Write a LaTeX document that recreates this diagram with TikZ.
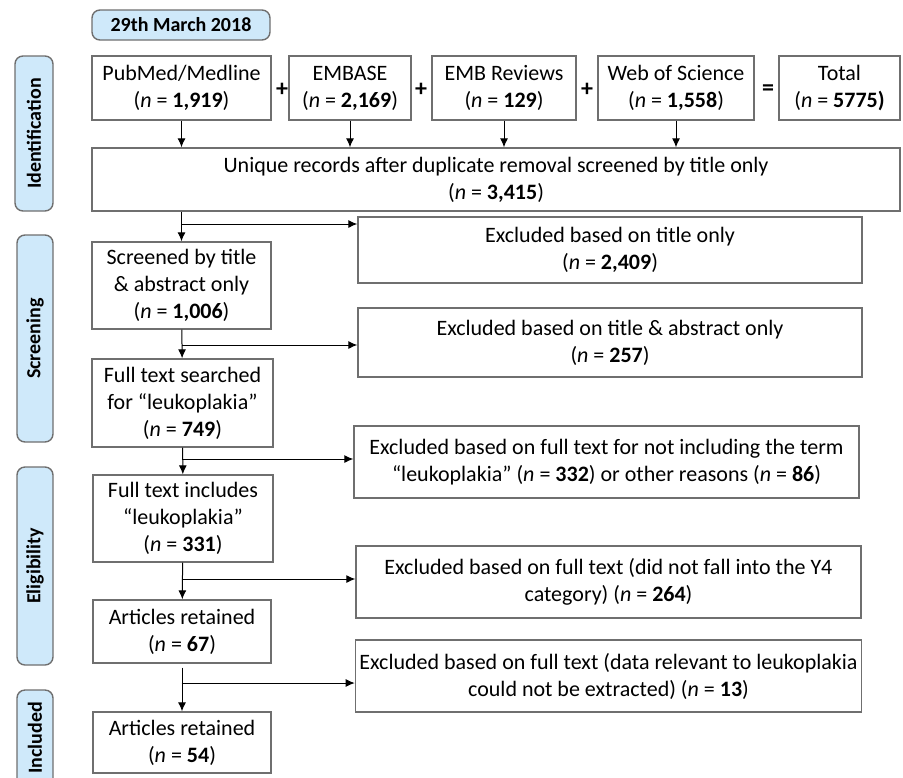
\documentclass[tikz,border=0pt]{standalone}
\usepackage{fontspec}
\setmainfont{Carlito}
\usetikzlibrary{positioning,arrows.meta}
\definecolor{phaseblue}{HTML}{CFE9FA}
\definecolor{edgegray}{HTML}{6F6F6F}
\newcommand{\ncount}[1]{(\textit{n} = \textbf{#1})}

\begin{document}
\begin{tikzpicture}[x=0.5pt,y=-0.5pt,
  font=\fontsize{11}{13.5}\selectfont,
  box/.style={draw=edgegray,line width=0.7pt,fill=white,align=center,inner sep=2pt},
  phase/.style={draw=edgegray,line width=0.7pt,fill=phaseblue,rounded corners=4pt,
    font=\fontsize{10}{12}\selectfont\bfseries},
  flow/.style={-{Latex[length=4.5pt,width=4pt]},line width=0.5pt},
  op/.style={font=\fontsize{12}{12}\selectfont\bfseries}]
\path[use as bounding box,clip] (0,0) rectangle (903,777);
% phases
\node[phase,minimum width=89pt,minimum height=15pt] (date) at (181,25) {29th March 2018};
\node[phase,rotate=90,minimum width=77.5pt,minimum height=19pt] (ident) at (34,133.5) {Identification};
\node[phase,rotate=90,minimum width=103.5pt,minimum height=18pt] (screen) at (35,338.5) {Screening};
\node[phase,rotate=90,minimum width=99pt,minimum height=18pt] (elig) at (35,566) {Eligibility};
\node[phase,rotate=90,minimum width=48pt,minimum height=18pt] (incl) at (35,738) {Included};
% databases
\node[box,minimum width=89.5pt,minimum height=32pt] (pub) at (181.5,88) {PubMed/Medline\\\ncount{1,919}};
\node[box,minimum width=61pt,minimum height=32pt] (emb) at (350,88) {EMBASE\\\ncount{2,169}};
\node[box,minimum width=72pt,minimum height=32pt] (embr) at (504,88) {EMB Reviews\\\ncount{129}};
\node[box,minimum width=78pt,minimum height=32pt] (wos) at (676,88) {Web of Science\\\ncount{1,558}};
\node[box,minimum width=60.5pt,minimum height=32pt] (tot) at (839.5,88) {Total\\(\textit{n} = \textbf{5775)}};
\node[op] (p1) at (282,90) {+};
\node[op] (p2) at (421,90) {+};
\node[op] (p3) at (587,90) {+};
\node[op] (eq) at (768,90) {=};
\node[box,minimum width=404pt,minimum height=31.5pt] (uniq) at (496,179.5)
  {Unique records after duplicate removal screened by title only\\\ncount{3,415}};
% main flow
\node[box,minimum width=89.5pt,minimum height=43.5pt] (scr) at (181.5,285.5)
  {Screened by title\\\& abstract only\\\ncount{1,006}};
\node[box,minimum width=90.5pt,minimum height=44pt] (fts) at (182.5,403)
  {Full text searched\\for “leukoplakia”\\\ncount{749}};
\node[box,minimum width=90pt,minimum height=43.5pt] (fti) at (183,518.5)
  {Full text includes\\“leukoplakia”\\\ncount{331}};
\node[box,minimum width=89pt,minimum height=31.5pt] (ar1) at (182,631.5) {Articles retained\\\ncount{67}};
\node[box,minimum width=89pt,minimum height=30.5pt] (ar2) at (182,742.5) {Articles retained\\\ncount{54}};
% exclusions
\node[box,minimum width=252pt,minimum height=33pt] (ex1) at (610,250)
  {Excluded based on title only\\\ncount{2,409}};
\node[box,minimum width=252pt,minimum height=34.5pt] (ex2) at (610,342.5)
  {Excluded based on title \& abstract only\\\ncount{257}};
\node[box,minimum width=252.5pt,minimum height=36pt] (ex3) at (606.5,462)
  {Excluded based on full text for not including the term\\“leukoplakia” \ncount{332} or other reasons \ncount{86}};
\node[box,minimum width=252.5pt,minimum height=36pt] (ex4) at (608.5,582)
  {Excluded based on full text (did not fall into the Y4\\category) \ncount{264}};
\node[box,minimum width=251.5pt,minimum height=36pt] (ex5) at (608.5,676)
  {Excluded based on full text (data relevant to leukoplakia\\could not be extracted) \ncount{13}};
% connectors
\foreach \s in {pub,emb,embr,wos}
  \draw[flow] (\s.south) -- (\s.south |- uniq.north);
\draw[flow] (scr.north |- uniq.south) -- (scr.north);
\draw[flow] (scr) -- (fts);
\draw[flow] (fts) -- (fti);
\draw[flow] (fti) -- (ar1);
\draw[flow,shorten <=2pt] (ar1) -- (ar2);
\coordinate (b1) at (scr.north |- 0,224);
\coordinate (b2) at (scr.north |- 0,345);
\coordinate (b3) at (scr.north |- 0,459);
\coordinate (b4) at (scr.north |- 0,579);
\coordinate (b5) at (scr.north |- 0,683);
\draw[flow] (b1) -- (b1 -| ex1.west);
\draw[flow] (b2) -- (b2 -| ex2.west);
\draw[flow] (b3) -- (b3 -| ex3.west);
\draw[flow] (b4) -- (b4 -| ex4.west);
\draw[flow] (b5) -- (b5 -| ex5.west);
\end{tikzpicture}
\end{document}
